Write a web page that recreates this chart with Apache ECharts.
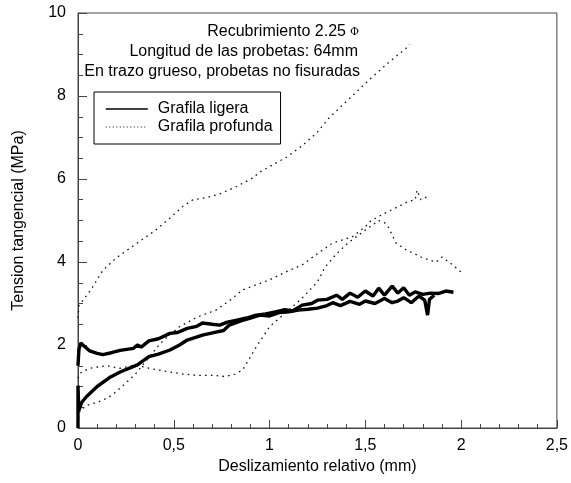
<!DOCTYPE html>
<html>
<head>
<meta charset="utf-8">
<script src="https://cdn.jsdelivr.net/npm/echarts@6/dist/echarts.min.js"></script>
<style>html,body{margin:0;padding:0;background:#fff}#c{width:571px;height:483px}</style>
</head>
<body>
<div id="c"></div>
<script>
// Grafila ligera (thick) curves
const ligeraA = [[0,1.5],[0.005,1.9],[0.015,2.05],[0.03,1.98],[0.06,1.86],[0.1,1.8],[0.13,1.77],[0.18,1.82],[0.22,1.87],[0.29,1.92],[0.31,2.0],[0.33,1.95],[0.37,2.1],[0.42,2.15],[0.48,2.28],[0.52,2.3],[0.57,2.4],[0.62,2.45],[0.65,2.53],[0.7,2.5],[0.74,2.48],[0.78,2.55],[0.83,2.6],[0.88,2.65],[0.93,2.72],[0.98,2.75],[1.03,2.8],[1.08,2.85],[1.12,2.82],[1.17,2.96],[1.22,3.0],[1.25,3.08],[1.3,3.1],[1.35,3.2],[1.38,3.1],[1.42,3.25],[1.46,3.15],[1.5,3.3],[1.54,3.18],[1.57,3.37],[1.6,3.2],[1.64,3.42],[1.67,3.25],[1.7,3.38],[1.73,3.2],[1.76,3.28],[1.8,3.22],[1.84,3.25],[1.88,3.24],[1.92,3.3],[1.96,3.27]];
const ligeraB = [[0,0],[0,1.02],[0.004,0.42],[0.02,0.62],[0.045,0.76],[0.1,1.0],[0.17,1.23],[0.22,1.35],[0.31,1.52],[0.37,1.72],[0.42,1.78],[0.48,1.88],[0.53,2.0],[0.57,2.12],[0.65,2.24],[0.72,2.31],[0.76,2.35],[0.79,2.48],[0.85,2.58],[0.9,2.65],[0.95,2.72],[1.0,2.7],[1.05,2.78],[1.1,2.8],[1.15,2.84],[1.2,2.86],[1.25,2.89],[1.3,2.95],[1.33,3.02],[1.37,2.95],[1.42,3.05],[1.47,2.98],[1.5,3.06],[1.55,3.0],[1.6,3.12],[1.64,3.02],[1.67,3.06],[1.7,3.14],[1.74,3.02],[1.78,3.18],[1.81,3.08],[1.825,2.72],[1.835,3.1],[1.86,3.2]];
// Grafila profunda (dotted) curves
const profundaA = [[0,2.65],[0.005,2.95],[0.03,3.1],[0.07,3.35],[0.13,3.8],[0.2,4.1],[0.31,4.46],[0.4,4.75],[0.48,5.06],[0.55,5.35],[0.6,5.5],[0.67,5.55],[0.74,5.64],[0.82,5.8],[0.91,6.02],[0.95,6.17],[1.02,6.35],[1.09,6.53],[1.17,6.8],[1.25,7.13],[1.31,7.47],[1.42,7.95],[1.52,8.39],[1.62,8.8],[1.72,9.18],[1.73,9.25]];
const profundaB = [[0,0.1],[0.005,0.3],[0.01,0.43],[0.05,0.55],[0.13,0.67],[0.18,0.8],[0.23,1.0],[0.3,1.3],[0.36,1.64],[0.43,2.04],[0.48,2.25],[0.53,2.44],[0.62,2.67],[0.72,2.84],[0.8,3.1],[0.86,3.33],[0.93,3.45],[1.0,3.57],[1.08,3.75],[1.17,3.93],[1.25,4.2],[1.33,4.46],[1.43,4.6],[1.5,4.85],[1.53,5.0],[1.6,5.17],[1.67,5.33],[1.72,5.45],[1.76,5.5],[1.77,5.73],[1.79,5.5],[1.81,5.54],[1.83,5.6]];
const profundaC = [[0,1.2],[0.01,1.32],[0.06,1.44],[0.15,1.5],[0.22,1.44],[0.3,1.52],[0.37,1.44],[0.48,1.35],[0.55,1.3],[0.62,1.27],[0.7,1.27],[0.77,1.24],[0.82,1.3],[0.86,1.4],[0.93,1.95],[1.0,2.44],[1.09,2.8],[1.17,3.13],[1.25,3.52],[1.29,3.88],[1.35,4.2],[1.41,4.46],[1.5,4.77],[1.57,5.0],[1.6,4.95],[1.62,4.84],[1.66,4.46],[1.71,4.3],[1.8,4.1],[1.87,4.0],[1.9,4.12],[1.95,3.95],[2.0,3.76]];

const seriesNames = ['Grafila ligera', 'Grafila profunda'];
const annotations = ['Recubrimiento 2.25', 'Longitud de las probetas: 64mm', 'En trazo grueso, probetas no fisuradas'];

const FONT = 'Liberation Sans, Arial, sans-serif';
const FS = 16;
const chart = echarts.init(document.getElementById('c'), null, {renderer: 'canvas'});

const thick = {color: '#000', width: 3.4, type: 'solid'};
const dotted = {color: '#111', width: 1.3, type: [1.6, 4.2]};
function mk(name, data, ls) {
  return {name, type: 'line', data, symbol: 'none', lineStyle: ls, itemStyle: {color: ls.color}, animation: false, z: ls === thick ? 3 : 2};
}
const noSym = {color: 'rgba(0,0,0,0)', borderColor: 'rgba(0,0,0,0)', borderWidth: 0};

chart.setOption({
  animation: false,
  textStyle: {fontFamily: FONT},
  grid: {left: 78, right: 12, top: 13, bottom: 55, show: true, borderColor: '#444', borderWidth: 1},
  legend: {
    data: [
      {name: seriesNames[0], lineStyle: {width: 1.6}, itemStyle: noSym},
      {name: seriesNames[1], lineStyle: {width: 1, type: [1, 2.5]}, itemStyle: noSym}
    ],
    itemStyle: noSym,
    orient: 'vertical', left: 94, top: 92, itemWidth: 42, itemHeight: 16, itemGap: 2,
    padding: [9, 8, 9, 11], borderColor: '#000', borderWidth: 1,
    textStyle: {fontFamily: FONT, fontSize: FS, color: '#000', padding: [0, 0, 0, 5]}
  },
  xAxis: {
    type: 'value', min: 0, max: 2.5, interval: 0.5,
    name: 'Deslizamiento relativo (mm)', nameLocation: 'middle', nameGap: 30,
    nameTextStyle: {fontFamily: FONT, fontSize: FS, color: '#000'},
    axisLine: {lineStyle: {color: '#444'}},
    axisTick: {inside: true, length: 8, lineStyle: {color: '#444'}},
    minorTick: {show: true, splitNumber: 5, length: 4, lineStyle: {color: '#444'}},
    splitLine: {show: false},
    axisLabel: {fontFamily: FONT, fontSize: FS, color: '#000', margin: 10, formatter: v => String(v).replace('.', ',')}
  },
  yAxis: {
    type: 'value', min: 0, max: 10, interval: 2,
    name: 'Tension tangencial (MPa)', nameLocation: 'middle', nameGap: 51,
    nameTextStyle: {fontFamily: FONT, fontSize: FS, color: '#000'},
    axisLine: {show: true, lineStyle: {color: '#444'}},
    axisTick: {show: true, inside: true, length: 9, lineStyle: {color: '#444'}},
    minorTick: {show: true, splitNumber: 4, length: 5, lineStyle: {color: '#444'}},
    splitLine: {show: false},
    axisLabel: {fontFamily: FONT, fontSize: FS, color: '#000', margin: 12}
  },
  graphic: [
    {type: 'text', x: 346, y: 32, style: {text: annotations[0], align: 'right', verticalAlign: 'middle', font: FS + 'px ' + FONT, fill: '#000'}},
    {type: 'text', x: 350, y: 32, style: {text: 'Φ', align: 'left', verticalAlign: 'middle', font: '11px DejaVu Serif', fill: '#000'}},
    {type: 'text', x: 358, y: 52, style: {text: annotations[1], align: 'right', verticalAlign: 'middle', font: FS + 'px ' + FONT, fill: '#000'}},
    {type: 'text', x: 360, y: 72, style: {text: annotations[2], align: 'right', verticalAlign: 'middle', font: FS + 'px ' + FONT, fill: '#000'}}
  ],
  series: [
    mk(seriesNames[1], profundaA, dotted),
    mk(seriesNames[1], profundaB, dotted),
    mk(seriesNames[1], profundaC, dotted),
    mk(seriesNames[0], ligeraA, thick),
    mk(seriesNames[0], ligeraB, thick)
  ]
});
</script>
</body>
</html>
